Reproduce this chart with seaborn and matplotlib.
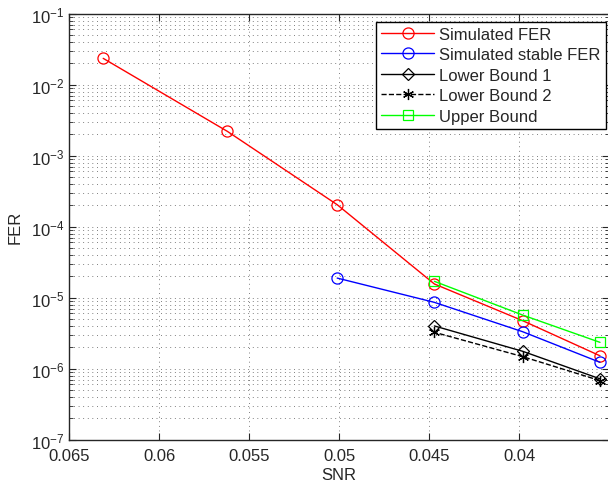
import numpy as np
import pandas as pd
import matplotlib
matplotlib.use("Agg")
import matplotlib.pyplot as plt
import seaborn as sns
from matplotlib.ticker import LogLocator, NullFormatter, FixedLocator

# Daten (SNR-Werte)
snr_all = [0.0631, 0.0562, 0.0501, 0.0447, 0.0398, 0.0355]
snr_stable = [0.0501, 0.0447, 0.0398, 0.0355]
snr_bound = [0.0447, 0.0398, 0.0355]

fer_sim = [2.35e-2, 2.2e-3, 2.04e-4, 1.56e-5, 4.75e-6, 1.52e-6]
fer_stable = [1.89e-5, 8.6e-6, 3.32e-6, 1.23e-6]
lower_bound_1 = [4.0e-6, 1.76e-6, 7.2e-7]
lower_bound_2 = [3.26e-6, 1.48e-6, 6.8e-7]
upper_bound = [1.70e-5, 5.7e-6, 2.35e-6]

x_ticks = [0.065, 0.06, 0.055, 0.05, 0.045, 0.04]
x_ticklabels = ["0.065", "0.06", "0.055", "0.05", "0.045", "0.04"]

sns.set_style("ticks")
plt.rcParams['font.family'] = ['Liberation Sans', 'DejaVu Sans']
plt.rcParams['mathtext.fontset'] = 'custom'
plt.rcParams['mathtext.rm'] = 'Liberation Sans'

fig = plt.figure(figsize=(6.08, 4.85), dpi=100)
ax = fig.add_axes([69 / 608, 1 - 440.7 / 485, 540 / 608, 426 / 485])

series = [
    ("Simulated FER", snr_all, fer_sim, "#ff0000", "o", "-"),
    ("Simulated stable FER", snr_stable, fer_stable, "#0000ff", "o", "-"),
    ("Lower Bound 1", snr_bound, lower_bound_1, "black", "D", "-"),
    ("Lower Bound 2", snr_bound, lower_bound_2, "black", (6, 2, 0), "--"),
    ("Upper Bound", snr_bound, upper_bound, "#00ff00", "s", "-"),
]

sizes = {"o": 8, "D": 6.5, "s": 7}

for name, xs, ys, col, mk, ls in series:
    df = pd.DataFrame({"SNR": xs, "FER": ys})
    sns.lineplot(data=df, x="SNR", y="FER", ax=ax, color=col, marker=mk,
                 linestyle=ls, linewidth=1.0,
                 markersize=sizes.get(mk, 8) if isinstance(mk, str) else 8,
                 markerfacecolor="none", markeredgecolor=col,
                 markeredgewidth=0.9, label=name,
                 dashes=(7, 5) if ls == "--" else "")

ax.set_yscale("log")
ax.set_xlim(0.065, 0.035)
ax.set_ylim(1e-7, 1e-1)
ax.xaxis.set_major_locator(FixedLocator(x_ticks))
ax.set_xticklabels(x_ticklabels)
ax.yaxis.set_major_locator(LogLocator(base=10, numticks=10))
ax.yaxis.set_minor_locator(LogLocator(base=10, subs=np.arange(2, 10), numticks=20))
ax.yaxis.set_minor_formatter(NullFormatter())

# MATLAB-artige Gitterlinien
ax.grid(which="major", axis="both", linestyle=(0, (1, 4.5)), color="#555555", linewidth=0.6)
ax.grid(which="minor", axis="y", linestyle=(0, (1, 4.5)), color="#555555", linewidth=0.6)

ax.tick_params(which="both", direction="in", top=True, right=True, labelsize=12)
ax.tick_params(axis="x", pad=6)
ax.tick_params(which="major", length=5)
ax.tick_params(which="minor", length=3)
for sp in ax.spines.values():
    sp.set_linewidth(1.0)

ax.set_xlabel("SNR", fontsize=12, labelpad=3)
ax.set_ylabel("FER", fontsize=12, labelpad=6)

leg = ax.legend(loc="upper right", fontsize=12, frameon=True, fancybox=False,
                edgecolor="black", borderaxespad=0, bbox_to_anchor=(0.994, 0.981),
                handlelength=3.2, labelspacing=0.33, borderpad=0.3,
                handletextpad=0.3, framealpha=1)
leg.get_frame().set_linewidth(1.0)

fig.savefig("out.png", dpi=100)
